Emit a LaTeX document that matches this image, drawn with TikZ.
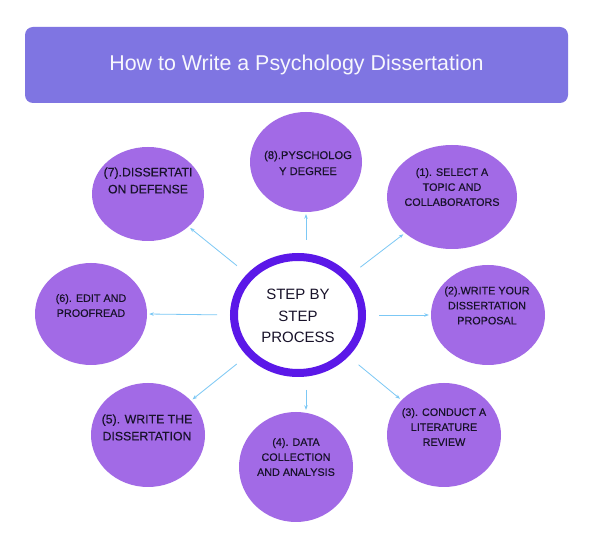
\documentclass[tikz,border=0pt]{standalone}
\usepackage{fontspec}
\setmainfont{Liberation Sans}
\newfontfamily\satfont[FakeBold=0.35]{Liberation Sans}
\usetikzlibrary{shapes.geometric,arrows.meta}
\definecolor{titlebg}{HTML}{7F75E2}
\definecolor{satfill}{HTML}{A26AE6}
\definecolor{ringcol}{HTML}{5B18E8}
\definecolor{arrcol}{HTML}{7CC8F5}
\definecolor{txtcol}{HTML}{18122A}
\tikzset{
  sat/.style={ellipse, fill=satfill, inner sep=0pt},
  lbl/.style={align=center, text=txtcol, font=\satfont\fontsize{10.8}{15}\selectfont, inner sep=0pt},
  biglbl/.style={lbl, font=\satfont\fontsize{12.3}{17}\selectfont},
  arr/.style={draw=arrcol, line width=0.8pt, -{Stealth[length=4.5pt,width=3.5pt]}, shorten <=13pt, shorten >=2pt},
}
\begin{document}
\begin{tikzpicture}[x=1pt,y=-1pt]
\useasboundingbox (0,0) rectangle (590,537);
\fill[white] (0,0) rectangle (590,537);
% title
\node[fill=titlebg, rounded corners=8pt, minimum width=543pt, minimum height=76pt, text=white!94!titlebg,
  font=\fontsize{21.4}{25}\selectfont] (title) at (296.5,65) {How to Write a Psychology Dissertation};
% center
\node[ellipse, draw=ringcol, line width=8pt, fill=white, minimum width=128pt, minimum height=116pt, inner sep=0pt] (c) at (298,315) {};
\node[align=center, text=txtcol, font=\fontsize{15}{21.5}\selectfont, inner sep=0pt] (ct) at (298,316) {STEP BY\\STEP\\PROCESS};
% satellites
\node[sat, minimum width=112pt, minimum height=100pt] (s8) at (306,162) {};
\node[sat, minimum width=112pt, minimum height=94pt] (s7) at (148,194) {};
\node[sat, minimum width=130pt, minimum height=104pt] (s1) at (452,197) {};
\node[sat, minimum width=114pt, minimum height=100pt] (s2) at (488,315) {};
\node[sat, minimum width=114pt, minimum height=104pt] (s3) at (444,435) {};
\node[sat, minimum width=114pt, minimum height=110pt] (s4) at (296,467) {};
\node[sat, minimum width=114pt, minimum height=104pt] (s5) at (148,435) {};
\node[sat, minimum width=112pt, minimum height=102pt] (s6) at (91,314) {};
% labels
\node[lbl, font=\satfont\fontsize{11.2}{16}\selectfont] (t8) at (308,163) {(8).PYSCHOLOG\\Y DEGREE};
\node[biglbl] (t7) at (148,180.5) {(7).DISSERTATI\\ON DEFENSE};
\node[lbl] (t1) at (452,187) {(1). SELECT A\\TOPIC AND\\COLLABORATORS};
\node[lbl] (t2) at (487,305.5) {(2).WRITE YOUR\\DISSERTATION\\PROPOSAL};
\node[lbl] (t3) at (444,427) {(3). CONDUCT A\\LITERATURE\\REVIEW};
\node[lbl] (t4) at (296,457) {(4). DATA\\COLLECTION\\AND ANALYSIS};
\node[biglbl] (t5) at (147,427.5) {(5). WRITE THE\\DISSERTATION};
\node[lbl] (t6) at (91,305.5) {(6). EDIT AND\\PROOFREAD};
% connectors
\draw[arr] ([xshift=8pt]c.north) -- ([xshift=8pt]c.north |- s8.south);
\draw[arr] ([xshift=8pt]c.south) -- ([xshift=8pt]c.south |- s4.north);
\draw[arr] (c) -- (s7);
\draw[arr] (c) -- (s1);
\draw[arr] (c) -- (s3);
\draw[arr] (c) -- (s5);
\draw[arr] (c.west) -- (s6.east);
\draw[arr] (c.east) -- (s2.west);
\end{tikzpicture}
\end{document}
